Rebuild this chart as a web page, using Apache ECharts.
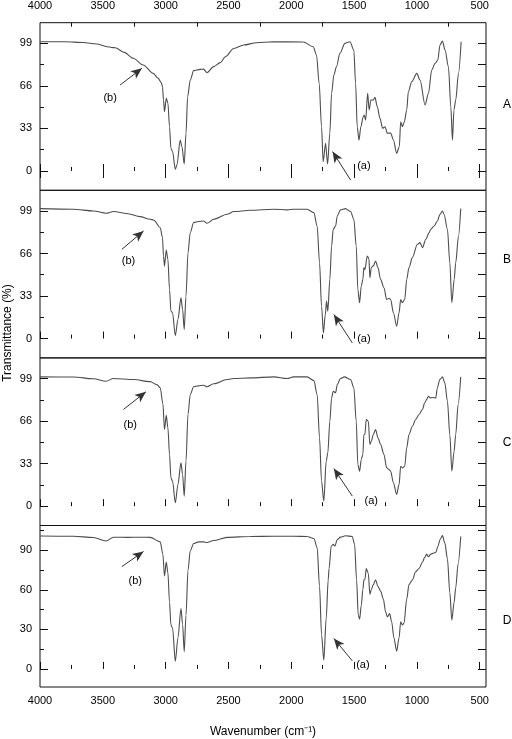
<!DOCTYPE html>
<html>
<head>
<meta charset="utf-8">
<title>FTIR spectra A-D</title>
<script src="https://cdn.jsdelivr.net/npm/echarts@6/dist/echarts.min.js"></script>
<style>
  html, body { margin: 0; padding: 0; background: #fff; }
  #chart { width: 512px; height: 739px; }
</style>
</head>
<body>
<div id="chart"></div>
<script>
/* global echarts */

const FONT = "'Liberation Sans', Arial, sans-serif";
const PANEL_NAMES = ["A", "B", "C", "D"];

// Spectrum A (wavenumber in cm-1, transmittance in %)
const WAVE_A = [4000, 3800, 3657, 3550, 3466, 3430, 3402, 3330, 3258, 3179, 3099, 3059, 3035, 3025, 3017, 3009, 2995, 2982, 2969, 2958, 2945, 2923, 2910, 2884, 2870, 2852, 2838, 2825, 2804, 2777, 2724, 2698, 2671, 2618, 2565, 2525, 2458, 2379, 2277, 2145, 1905, 1825, 1799, 1778, 1759, 1746, 1727, 1711, 1693, 1679, 1661, 1640, 1613, 1573, 1533, 1502, 1488, 1475, 1461, 1446, 1427, 1419, 1408, 1392, 1380, 1366, 1347, 1334, 1315, 1294, 1273, 1254, 1235, 1209, 1187, 1161, 1140, 1129, 1116, 1100, 1081, 1068, 1041, 1001, 975, 935, 908, 882, 855, 834, 816, 797, 776, 749, 730, 717, 705, 691, 669, 648];
const TRANS_A = [100.2, 100.2, 99.7, 98.5, 96.4, 95.8, 95.6, 92, 87.4, 82.2, 75.7, 71.8, 68.5, 65.4, 55, 46, 56.4, 52.7, 34.3, 17.6, 15, 1.3, 4.7, 24, 18.8, 5.4, 29, 57.6, 70.5, 77.8, 78.8, 79, 76.2, 80.9, 84, 88.6, 95, 97.7, 99.5, 100.2, 100, 96.4, 89.9, 68, 34.3, 7.2, 21.4, 5.4, 29.2, 60.2, 74.4, 80.9, 91.2, 99, 100.2, 93.8, 68, 34.3, 24, 34.3, 42.1, 43.4, 39.5, 60.2, 47.3, 55, 55, 57.1, 49.8, 40.8, 33.1, 34.3, 29.2, 29.5, 24, 13.7, 18.8, 38.2, 34.3, 38.2, 47.3, 61.5, 69.2, 75.7, 70.5, 51.2, 60.2, 78.3, 83.5, 86, 97.7, 100.8, 93.8, 80.9, 49.8, 24, 47.3, 55, 75.7, 100.2];

// Spectrum B
const WAVE_B = [4000, 3734, 3575, 3474, 3415, 3309, 3203, 3123, 3096, 3043, 3025, 3017, 3009, 2995, 2982, 2969, 2958, 2945, 2923, 2902, 2878, 2865, 2852, 2838, 2822, 2804, 2777, 2738, 2698, 2671, 2618, 2511, 2458, 2325, 2139, 2033, 1980, 1874, 1820, 1794, 1775, 1759, 1744, 1730, 1719, 1709, 1693, 1679, 1666, 1647, 1634, 1608, 1568, 1528, 1502, 1483, 1470, 1456, 1443, 1430, 1422, 1414, 1395, 1382, 1374, 1363, 1347, 1329, 1310, 1289, 1262, 1241, 1222, 1209, 1187, 1161, 1142, 1129, 1116, 1097, 1081, 1063, 1036, 996, 975, 956, 929, 902, 890, 863, 837, 816, 797, 784, 757, 738, 722, 703, 691, 669, 651];
const TRANS_B = [100.8, 100.3, 99, 97.2, 98.5, 97, 94.6, 92.5, 92, 86, 78.3, 64, 56.2, 68.7, 61.4, 38.1, 21.3, 20, 2.3, 14.8, 31.6, 22.6, 7, 32.9, 66.6, 82.2, 90, 90.8, 91.2, 89.4, 92.5, 96.4, 98.5, 99.5, 100.3, 99.8, 100.3, 100.3, 97.7, 87.3, 58.9, 25.1, 4.4, 18, 29, 21.2, 45.9, 71.8, 84.8, 87.3, 95.1, 99.8, 100.8, 98.5, 92.5, 71.8, 38.1, 27.8, 40.7, 45.9, 55, 53.5, 64, 62, 47.2, 55, 56.4, 60.1, 55, 45.9, 39.4, 30.3, 31.3, 30.3, 20, 9.6, 20, 30.3, 27.8, 30.3, 45.9, 55, 62.8, 73.1, 74.4, 70.5, 77, 82.2, 84.8, 87.3, 91.2, 96.4, 98.9, 96.4, 84.8, 58.9, 27.8, 45.9, 58.9, 79.5, 100.8];

// Spectrum C
const WAVE_C = [4000, 3734, 3575, 3474, 3415, 3256, 3123, 3070, 3043, 3022, 3009, 2995, 2982, 2969, 2958, 2945, 2923, 2902, 2878, 2865, 2852, 2838, 2822, 2804, 2777, 2738, 2698, 2671, 2618, 2511, 2458, 2325, 2139, 2033, 1980, 1874, 1820, 1794, 1775, 1759, 1741, 1722, 1709, 1693, 1679, 1666, 1647, 1634, 1608, 1576, 1528, 1502, 1483, 1470, 1456, 1443, 1430, 1422, 1414, 1403, 1387, 1374, 1363, 1347, 1329, 1310, 1289, 1262, 1241, 1222, 1209, 1187, 1161, 1142, 1129, 1116, 1097, 1081, 1063, 1036, 1010, 983, 956, 938, 922, 908, 895, 876, 850, 837, 818, 797, 778, 757, 738, 722, 704, 691, 672, 651];
const TRANS_C = [100.3, 100.2, 98.8, 96.9, 99, 98.2, 96.6, 94.3, 91.8, 79.5, 59.5, 70.4, 60.8, 40.1, 22, 19.4, 2.6, 16.8, 33.6, 24.6, 7.8, 34.9, 71.1, 86.6, 92.6, 93.3, 93.8, 92.6, 94.9, 98.2, 99, 99.5, 100.3, 99, 100.3, 100.3, 97.4, 86.6, 53, 19.4, 3.9, 34.9, 41.4, 65.9, 84, 89.1, 88, 94.3, 99, 100.3, 98.2, 91.8, 65.9, 32.3, 27.1, 36.2, 40.1, 55.6, 55.8, 67.2, 66, 47.8, 50.4, 55.6, 59.5, 53, 47.8, 40.1, 29.8, 28.4, 27.1, 18.1, 9.1, 16.8, 31, 29.7, 31, 45.2, 55.6, 62, 67.2, 71.1, 75, 80.2, 82.8, 85.3, 84, 84.3, 84, 91.8, 98.2, 100.3, 95.6, 81.4, 55.6, 27.1, 42.6, 55.6, 78.8, 100.3];

// Spectrum D
const WAVE_D = [4000, 3734, 3575, 3474, 3415, 3300, 3200, 3123, 3043, 3022, 3009, 2995, 2982, 2969, 2958, 2945, 2923, 2902, 2878, 2865, 2852, 2838, 2822, 2804, 2777, 2738, 2698, 2671, 2618, 2511, 2325, 2139, 1980, 1874, 1820, 1794, 1775, 1759, 1741, 1722, 1706, 1699, 1682, 1666, 1653, 1634, 1608, 1568, 1515, 1496, 1480, 1467, 1456, 1443, 1430, 1422, 1414, 1403, 1387, 1374, 1363, 1347, 1329, 1310, 1289, 1267, 1249, 1235, 1217, 1201, 1183, 1161, 1142, 1129, 1116, 1103, 1081, 1063, 1036, 1010, 983, 956, 938, 922, 908, 890, 850, 832, 816, 797, 778, 757, 738, 722, 704, 691, 672, 651];
const TRANS_D = [100.7, 100.5, 99.6, 97, 99.8, 99.7, 99.8, 99.7, 96.3, 87, 70.4, 81, 73, 50.5, 33.4, 31, 5.8, 23.6, 45.7, 33.8, 13.1, 40.7, 74.8, 89.5, 95.1, 96.3, 96.3, 95.8, 97.3, 99.7, 100.4, 100.5, 100.5, 100.4, 98.8, 91.9, 62.6, 26, 6.6, 38.3, 67.5, 76, 93.1, 94.4, 93.1, 98, 99.9, 100.9, 100.4, 94.4, 67.5, 40.7, 37.7, 48, 60.2, 67.5, 67.8, 76.1, 72.4, 56.5, 60.2, 63.9, 67.5, 62.6, 59, 52.9, 43.2, 39.5, 41.9, 35.8, 23.6, 13.4, 23.6, 35.8, 33.4, 34.5, 52.9, 63.9, 67.5, 73.6, 76.1, 80.9, 84.6, 87, 85.1, 87, 88.2, 93.1, 98, 101, 95.5, 83.4, 57.8, 37, 50.5, 61.4, 79.7, 100.4];

const WAVES = [WAVE_A, WAVE_B, WAVE_C, WAVE_D];
const TRANS = [TRANS_A, TRANS_B, TRANS_C, TRANS_D];

// Axis ticks
const X_MIN = 450;
const X_MAX = 4000;
const X_MAJOR = [500, 1000, 1500, 2000, 2500, 3000, 3500, 4000];
const X_MINOR = [750, 1250, 1750, 2250, 2750, 3250, 3750];
const Y_RANGES = [[-15, 115], [-15, 115], [-15, 115], [-13.7, 108.7]];
const Y_MAJOR = [[0, 33, 66, 99], [0, 33, 66, 99], [0, 33, 66, 99], [0, 30, 60, 90]];
const Y_MINOR = [[16.5, 49.5, 82.5], [16.5, 49.5, 82.5], [16.5, 49.5, 82.5], [15, 45, 75, 105]];
const Y_RIGHT = [
  [0, 16.5, 33, 49.5, 66, 82.5, 99],
  [0, 16.5, 33, 49.5, 66, 82.5, 99],
  [0, 16.5, 33, 49.5, 66, 82.5, 99],
  [0, 15, 30, 45, 60, 75, 90, 105],
];

// Annotation arrows: [tailWave, tailT, headWave, headT]
const ARROW_A = [[1528, -7, 1671, 15], [1514, -3.4, 1661, 18.7], [1514, 7.8, 1661, 29.2], [1514, 6.1, 1661, 23.1]];
const ARROW_B = [[3362, 66.7, 3189, 79.6], [3349, 69.2, 3176, 83.4], [3336, 75, 3157, 88.7], [3349, 77.5, 3176, 89]];
const LABEL_A = [[1422, 4.1], [1422, -0.2], [1363, 3.9], [1430, 2.9]];
const LABEL_B = [[3442, 56.4], [3296, 60.1], [3282, 62.6], [3242, 67]];

// Layout
const PLOT_LEFT = 40;
const PLOT_RIGHT = 26;
const GRID_TOPS = [22.7, 190.3, 357.9, 525.5];
const GRID_HEIGHT = 167.6;
const NAME_Y = [105, 260, 443, 621];
const AXIS_COLOR = "#111";
const LINE_COLOR = "#4d4d4d";

function plainNumber(value) {
  return String(value);
}

function makeXAxis(gridIndex, position, ticks, length, withLabels) {
  return {
    type: "value",
    gridIndex,
    position,
    min: X_MIN,
    max: X_MAX,
    inverse: true,
    axisLine: { show: false },
    splitLine: { show: false },
    axisTick: {
      show: true,
      inside: true,
      length,
      customValues: ticks,
      lineStyle: { color: AXIS_COLOR, width: 1 },
    },
    axisLabel: {
      show: withLabels,
      customValues: ticks,
      formatter: plainNumber,
      margin: position === "top" ? 11 : 8,
      color: "#000",
      fontSize: 11,
      fontFamily: FONT,
    },
  };
}

function makeYAxis(gridIndex, position, range, ticks, length, withLabels) {
  return {
    type: "value",
    gridIndex,
    position,
    min: range[0],
    max: range[1],
    axisLine: { show: false },
    splitLine: { show: false },
    axisTick: {
      show: true,
      inside: true,
      length,
      customValues: ticks,
      lineStyle: { color: AXIS_COLOR, width: 1 },
    },
    axisLabel: {
      show: withLabels,
      customValues: ticks,
      formatter: plainNumber,
      margin: 8,
      color: "#000",
      fontSize: 11,
      fontFamily: FONT,
    },
  };
}

function buildOption() {
  const grids = [];
  const xAxes = [];
  const yAxes = [];
  const series = [];

  PANEL_NAMES.forEach((name, i) => {
    grids.push({
      left: PLOT_LEFT,
      right: PLOT_RIGHT,
      top: GRID_TOPS[i],
      height: GRID_HEIGHT,
      show: true,
      borderColor: AXIS_COLOR,
      borderWidth: 1,
      backgroundColor: "transparent",
    });

    const xIndex = xAxes.length;
    const bottomAxis = makeXAxis(i, "bottom", X_MAJOR, 7, i === 3);
    if (i === 3) {
      bottomAxis.name = "Wavenumber (cm\u207B\u00B9)";
      bottomAxis.nameLocation = "middle";
      bottomAxis.nameGap = 39;
      bottomAxis.nameTextStyle = { color: "#000", fontSize: 12, fontFamily: FONT };
    }
    xAxes.push(bottomAxis);
    xAxes.push(makeXAxis(i, "bottom", X_MINOR, 4, false));
    if (i === 0) {
      xAxes.push(makeXAxis(i, "top", X_MAJOR, 7, true));
      xAxes.push(makeXAxis(i, "top", X_MINOR, 4, false));
    }

    const yIndex = yAxes.length;
    yAxes.push(makeYAxis(i, "left", Y_RANGES[i], Y_MAJOR[i], 8, true));
    yAxes.push(makeYAxis(i, "left", Y_RANGES[i], Y_MINOR[i], 4, false));
    yAxes.push(makeYAxis(i, "right", Y_RANGES[i], Y_RIGHT[i], 8, false));

    const waves = WAVES[i];
    const values = TRANS[i];
    const a = ARROW_A[i];
    const b = ARROW_B[i];
    series.push({
      name,
      type: "line",
      xAxisIndex: xIndex,
      yAxisIndex: yIndex,
      showSymbol: false,
      symbol: "none",
      smooth: 0.3,
      smoothMonotone: "x",
      lineStyle: { color: LINE_COLOR, width: 1.1 },
      data: waves.map((w, k) => [w, values[k]]),
      markLine: {
        silent: true,
        animation: false,
        symbol: ["none", "arrow"],
        symbolSize: [7, 11],
        lineStyle: { color: "#333", width: 1, type: "solid" },
        label: { show: false },
        data: [
          [{ coord: [a[0], a[1]] }, { coord: [a[2], a[3]] }],
          [{ coord: [b[0], b[1]] }, { coord: [b[2], b[3]] }],
        ],
      },
      markPoint: {
        silent: true,
        animation: false,
        symbol: "circle",
        symbolSize: 1,
        itemStyle: { color: "rgba(0,0,0,0)" },
        label: {
          show: true,
          position: "inside",
          color: "#000",
          fontSize: 11,
          fontFamily: FONT,
          formatter: (p) => p.name,
        },
        data: [
          { name: "(a)", coord: LABEL_A[i] },
          { name: "(b)", coord: LABEL_B[i] },
        ],
      },
    });
  });

  const graphics = PANEL_NAMES.map((name, i) => ({
    type: "text",
    x: 507,
    y: NAME_Y[i],
    style: {
      text: name,
      fill: "#000",
      font: `12px ${FONT}`,
      textAlign: "center",
      textVerticalAlign: "middle",
    },
  }));
  graphics.push({
    type: "text",
    x: 8,
    y: 333,
    rotation: Math.PI / 2,
    style: {
      text: "Transmittance (%)",
      fill: "#000",
      font: `12px ${FONT}`,
      textAlign: "center",
      textVerticalAlign: "middle",
    },
  });

  return {
    animation: false,
    backgroundColor: "#fff",
    grid: grids,
    xAxis: xAxes,
    yAxis: yAxes,
    series,
    graphic: graphics,
  };
}

const chart = echarts.init(document.getElementById("chart"), null, { renderer: "canvas" });
chart.setOption(buildOption());
</script>
</body>
</html>
